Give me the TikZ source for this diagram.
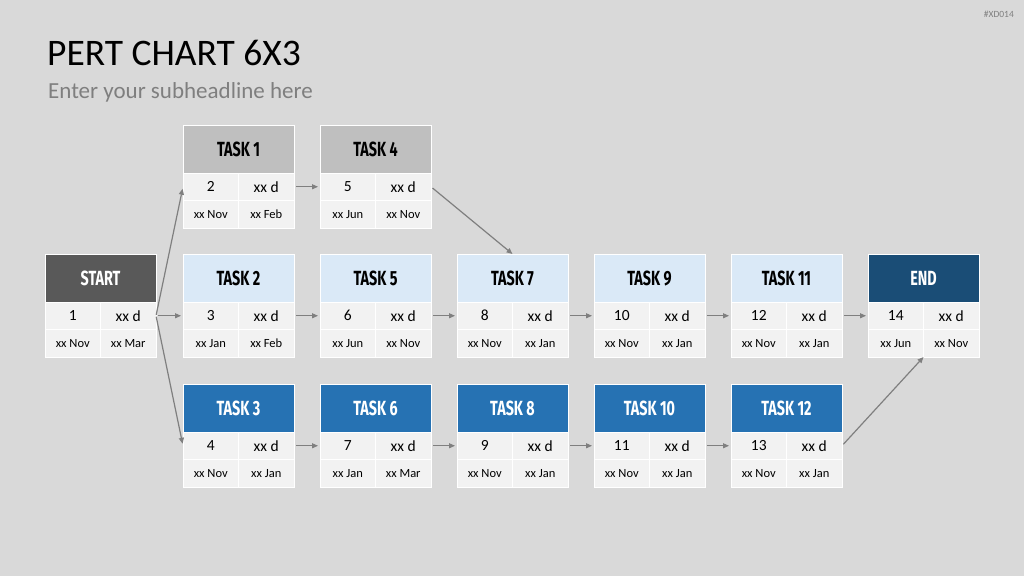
\documentclass[tikz,border=0pt]{standalone}
\usepackage{fontspec}
\setmainfont{Carlito}
\newfontfamily\headfont[FakeStretch=0.7]{Fira Sans}
\usetikzlibrary{arrows.meta,positioning}

\definecolor{bggray}{HTML}{D9D9D9}
\definecolor{cellgray}{HTML}{F2F2F2}
\definecolor{headgray}{HTML}{BFBFBF}
\definecolor{startgray}{HTML}{595959}
\definecolor{lightblue}{HTML}{DAE9F7}
\definecolor{midblue}{HTML}{2672B3}
\definecolor{navy}{HTML}{1A4D76}
\definecolor{linegray}{HTML}{7F7F7F}

% one PERT box: name, x, y, title, header style, number, duration, start, end
\newcommand{\pertbox}[9]{%
  \node[head, #5, anchor=north west] (#1) at (#2,#3) {#4};
  \node[cell, anchor=north west] (#1n) at (#1.south west) {#6};
  \node[cell, anchor=north west] (#1d) at (#1n.north east) {#7};
  \node[cell, datefont, anchor=north west] (#1s) at (#1n.south west) {#8};
  \node[cell, datefont, anchor=north west] (#1e) at (#1s.north east) {#9};
}

\begin{document}
\begin{tikzpicture}[x=1pt, y=-1pt,
    head/.style={draw=white, line width=0.8pt, outer sep=0pt, inner sep=0pt,
      minimum width=111pt, minimum height=48pt, text depth=0pt,
      font=\headfont\bfseries\fontsize{20.5}{20.5}\selectfont},
    greyhead/.style={fill=headgray, text=black},
    darkhead/.style={fill=startgray, text=white},
    lighthead/.style={fill=lightblue, text=black},
    bluehead/.style={fill=midblue, text=white},
    navyhead/.style={fill=navy, text=white},
    cell/.style={draw=white, line width=0.8pt, outer sep=0pt, inner sep=0pt,
      fill=cellgray, minimum width=55.5pt, minimum height=27.5pt,
      font=\fontsize{15.5}{15.5}\selectfont},
    datefont/.style={font=\fontsize{12.5}{12.5}\selectfont},
    conn/.style={draw=linegray, line width=1.2pt,
      -{Triangle[length=6pt,width=5pt]}, shorten <=2pt, shorten >=2pt}]

  % Background
  \fill[bggray] (0,0) rectangle (1024,576);
  \useasboundingbox (0,0) rectangle (1024,576);

  % Title
  \node[anchor=base west, inner sep=0pt, font=\fontsize{37.5}{37.5}\selectfont] (title) at (47,65) {PERT CHART 6X3};
  \node[anchor=base west, inner sep=0pt, text=linegray, font=\fontsize{23}{23}\selectfont] (subtitle) at (48,98) {Enter your subheadline here};
  \node[anchor=base east, inner sep=0pt, text=linegray, font=\fontsize{9.5}{9.5}\selectfont] (tag) at (1014,17) {\#XD014};

  % Top row
  \pertbox{t1}{183}{125}{TASK 1}{greyhead}{2}{xx d}{xx Nov}{xx Feb}
  \pertbox{t4}{320}{125}{TASK 4}{greyhead}{5}{xx d}{xx Jun}{xx Nov}

  % Middle row
  \pertbox{start}{45}{254}{START}{darkhead}{1}{xx d}{xx Nov}{xx Mar}
  \pertbox{t2}{183}{254}{TASK 2}{lighthead}{3}{xx d}{xx Jan}{xx Feb}
  \pertbox{t5}{320}{254}{TASK 5}{lighthead}{6}{xx d}{xx Jun}{xx Nov}
  \pertbox{t7}{457}{254}{TASK 7}{lighthead}{8}{xx d}{xx Nov}{xx Jan}
  \pertbox{t9}{594}{254}{TASK 9}{lighthead}{10}{xx d}{xx Nov}{xx Jan}
  \pertbox{t11}{731}{254}{TASK 11}{lighthead}{12}{xx d}{xx Nov}{xx Jan}
  \pertbox{end}{868}{254}{END}{navyhead}{14}{xx d}{xx Jun}{xx Nov}

  % Bottom row
  \pertbox{t3}{183}{384}{TASK 3}{bluehead}{4}{xx d}{xx Nov}{xx Jan}
  \pertbox{t6}{320}{384}{TASK 6}{bluehead}{7}{xx d}{xx Jan}{xx Mar}
  \pertbox{t8}{457}{384}{TASK 8}{bluehead}{9}{xx d}{xx Nov}{xx Jan}
  \pertbox{t10}{594}{384}{TASK 10}{bluehead}{11}{xx d}{xx Nov}{xx Jan}
  \pertbox{t12}{731}{384}{TASK 12}{bluehead}{13}{xx d}{xx Nov}{xx Jan}

  % Arrows out of START
  \draw[conn, shorten <=1pt] (startd.east) -- (t1n.west);
  \draw[conn] (startd.east) -- (t2n.west);
  \draw[conn, shorten <=1pt] (startd.east) -- (t3n.west);

  % Arrows along the rows
  \draw[conn] (t1d.east) -- (t4n.west);
  \draw[conn] (t2d.east) -- (t5n.west);
  \draw[conn] (t5d.east) -- (t7n.west);
  \draw[conn] (t7d.east) -- (t9n.west);
  \draw[conn] (t9d.east) -- (t11n.west);
  \draw[conn] (t11d.east) -- (endn.west);
  \draw[conn] (t3d.east) -- (t6n.west);
  \draw[conn] (t6d.east) -- (t8n.west);
  \draw[conn] (t8d.east) -- (t10n.west);
  \draw[conn] (t10d.east) -- (t12n.west);

  % Cross arrows
  \draw[conn, shorten >=0pt] (t4d.east) -- (t7.north);
  \draw[conn, shorten >=0pt] (t12d.east) -- (ends.south east);
\end{tikzpicture}
\end{document}
